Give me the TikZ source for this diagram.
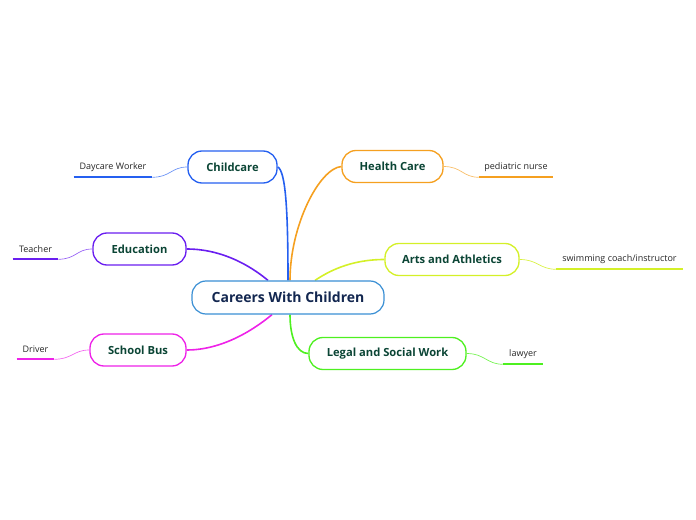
\documentclass[tikz,border=0pt]{standalone}
\usepackage{fontspec}
\setmainfont{Open Sans}
\usetikzlibrary{backgrounds}
\definecolor{ccblue}{HTML}{2560F0}
\definecolor{edpurple}{HTML}{6A1EF0}
\definecolor{sbmag}{HTML}{EE22E8}
\definecolor{hcorange}{HTML}{F5A020}
\definecolor{aayellow}{HTML}{D4F028}
\definecolor{lwgreen}{HTML}{4EF020}
\definecolor{cenblue}{HTML}{3A8FD4}
\definecolor{topictext}{HTML}{0B4535}
\definecolor{centext}{HTML}{132750}
\tikzset{
  topic/.style={draw, line width=1pt, fill=white, rounded corners=10.5pt, minimum height=24pt, inner sep=0pt, font=\fontsize{8.4}{9}\selectfont\bfseries, text=topictext},
  central/.style={draw=cenblue, line width=0.9pt, fill=white, rounded corners=10.5pt, minimum height=24.75pt, minimum width=144pt, inner sep=0pt, font=\fontsize{10.5}{12}\selectfont\bfseries, text=centext},
  sublabel/.style={inner sep=0pt, minimum height=15pt, font=\fontsize{6.75}{8}\selectfont, text=black!85},
  mainlink/.style={line width=1.2pt},
  sublink/.style={line width=0.5pt},
  uline/.style={line width=1.5pt}
}
\begin{document}
\begin{tikzpicture}[x=0.75pt,y=-0.75pt]
\useasboundingbox (0,0) rectangle (696,520);
\node[central] (cen) at (288,297.5) {Careers With Children};
\node[topic, draw=ccblue, minimum width=66.75pt] (cc) at (232.5,167) {Childcare};
\node[topic, draw=edpurple, minimum width=69.75pt] (ed) at (139.5,249) {Education};
\node[topic, draw=sbmag, minimum width=72pt] (sb) at (138,350) {School Bus};
\node[topic, draw=hcorange, minimum width=75.75pt] (hc) at (392.5,166.5) {Health Care};
\node[topic, draw=aayellow, minimum width=100.5pt] (aa) at (452,259.5) {Arts and Athletics};
\node[topic, draw=lwgreen, minimum width=117.75pt] (lw) at (387.5,353.5) {Legal and Social Work};
\begin{scope}[on background layer]
\draw[mainlink, ccblue] (cc.east) .. controls +(8,4) and +(0,-70) .. (cen.north);
\draw[mainlink, hcorange] (hc.west) .. controls +(-22,2) and +(0,-55) .. ([xshift=1.5pt]cen.north);
\draw[mainlink, edpurple] (ed.east) .. controls +(40,0) and +(-12,-10) .. ([xshift=-15pt]cen.north);
\draw[mainlink, aayellow] (aa.west) .. controls +(-35,0) and +(12,-8) .. ([xshift=20.25pt]cen.north);
\draw[mainlink, sbmag] (sb.east) .. controls +(40,0) and +(-12,10) .. ([xshift=-12pt]cen.south);
\draw[mainlink, lwgreen] (lw.west) .. controls +(-12,0) and +(0,22) .. ([xshift=1.5pt]cen.south);
\end{scope}
% sub labels
\node[sublabel, minimum width=58.5pt] (dw) at (113,167) {Daycare Worker};
\node[sublabel, minimum width=33.75pt] (te) at (35.5,249) {Teacher};
\node[sublabel, minimum width=27.75pt] (dr) at (35.5,349) {Driver};
\node[sublabel, minimum width=55.5pt] (pn) at (516,167) {pediatric nurse};
\node[sublabel, minimum width=95.25pt] (sw) at (619.5,259) {swimming coach/instructor};
\node[sublabel, minimum width=30pt] (la) at (523,354) {lawyer};
% underlines
\draw[uline, ccblue] (dw.south west) -- (dw.south east);
\draw[uline, edpurple] (te.south west) -- (te.south east);
\draw[uline, sbmag] (dr.south west) -- (dr.south east);
\draw[uline, hcorange] (pn.south west) -- (pn.south east);
\draw[uline, aayellow] (sw.south west) -- (sw.south east);
\draw[uline, lwgreen] (la.south west) -- (la.south east);
% sub connectors
\draw[sublink, ccblue!70] (dw.south east) .. controls +(18,0) and +(-16,0) .. (cc.west);
\draw[sublink, edpurple!70] (te.south east) .. controls +(18,0) and +(-16,0) .. (ed.west);
\draw[sublink, sbmag!70] (dr.south east) .. controls +(18,0) and +(-16,0) .. (sb.west);
\draw[sublink, hcorange!70] (hc.east) .. controls +(18,0) and +(-16,0) .. (pn.south west);
\draw[sublink, aayellow!90] (aa.east) .. controls +(18,0) and +(-16,0) .. (sw.south west);
\draw[sublink, lwgreen!80] (lw.east) .. controls +(18,0) and +(-16,0) .. (la.south west);
\end{tikzpicture}
\end{document}
